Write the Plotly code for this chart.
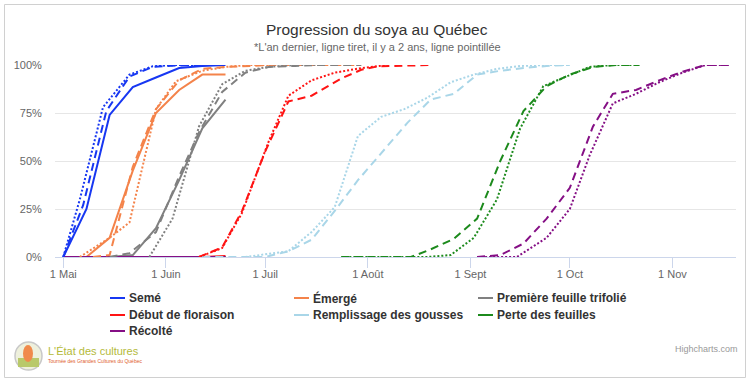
import plotly.graph_objects as go
import pandas as pd

# ---------------- data ----------------
# days counted from 1 May (same calendar for all three seasons)
debut_saison = "2021-05-01"
mois_dates = ["2021-05-01", "2021-06-01", "2021-07-01", "2021-08-01", "2021-09-01", "2021-10-01", "2021-11-01"]
mois_labels = ["1 Mai", "1 Juin", "1 Juil", "1 Août", "1 Sept", "1 Oct", "1 Nov"]
y_ticks = [0, 25, 50, 75, 100]
y_labels = ["0%", "25%", "50%", "75%", "100%"]

stades = ["Semé", "Émergé", "Première feuille trifolié", "Début de floraison",
          "Remplissage des gousses", "Perte des feuilles", "Récolté"]
couleurs = ["#1737f2", "#f4834a", "#808080", "#ff1414", "#a9d6e8", "#1c8a1c", "#850f85"]

# current year (solid)
jours_cette_annee = [0, 7, 14, 21, 28, 35, 42, 49]
seme = [0, 25, 74, 88.5, 93.5, 98.4, 99.5, 100]
emerge = [0, 0, 10, 45, 75, 87, 95, 95]
trifolie = [0, 0, 0, 1, 15, 40, 67, 82]
floraison = [0, 0, 0, 0, 0, 0, 0, 0.5]
gousses = [0, 0, 0, 0, 0, 0, 0, 0]
perte = [0, 0, 0, 0, 0, 0, 0, 0]
recolte = [0, 0, 0, 0, 0, 0, 0, 0]

# last year (dashed)
seme_j1 = [0, 6, 13, 20, 27, 34, 41, 48]
seme_v1 = [0, 27, 76, 94, 99, 99.7, 100, 100]
emerge_j1 = [9, 14, 21, 28, 35, 42, 49, 56, 63, 70, 77, 84, 90]
emerge_v1 = [0, 1, 47, 77, 92, 98, 99, 99.5, 100, 100, 100, 100, 100]
trifolie_j1 = [14, 20, 28, 35, 41, 48, 55, 62, 70, 77, 84, 90]
trifolie_v1 = [0, 2, 13, 42, 65, 86, 96, 99, 99.5, 100, 100, 100]
floraison_j1 = [41, 48, 54, 61, 68, 75, 84, 90, 95, 103, 111]
floraison_v1 = [0, 5, 24, 55, 81, 84, 93, 97.5, 99.3, 99.8, 100]
gousses_j1 = [42, 61, 68, 75, 82, 89, 97, 104, 111, 118, 125, 132, 139, 146, 153]
gousses_v1 = [0, 0, 3, 9, 24, 40, 56, 70, 82, 85, 95, 97, 98.4, 99.5, 100]
perte_j1 = [84, 105, 111, 118, 125, 132, 139, 146, 153, 160, 167, 174]
perte_v1 = [0, 0, 4, 9.5, 20, 50, 76, 89, 95, 99, 100, 100]
recolte_j1 = [125, 132, 139, 146, 153, 160, 166, 173, 180, 187, 194, 201]
recolte_v1 = [0, 1, 7, 20, 36, 68, 85, 87, 92, 96.5, 100, 100]

# two years ago (dotted)
seme_j2 = [0, 5, 12, 20, 27, 34, 41, 48]
seme_v2 = [0, 30, 78, 95, 99.3, 100, 100, 100]
emerge_j2 = [5, 14, 20, 28, 34, 42, 49, 56, 63]
emerge_v2 = [0, 10, 18, 77, 91.5, 97, 99, 100, 100]
trifolie_j2 = [26, 33, 41, 48, 55, 62, 70, 77]
trifolie_v2 = [0, 20, 68, 90, 97, 99, 100, 100]
floraison_j2 = [41, 48, 54, 62, 68, 75, 82, 90, 98]
floraison_v2 = [0, 4.7, 23, 60, 84, 92, 96, 98.4, 100]
gousses_j2 = [55, 68, 75, 82, 89, 96, 103, 110, 117, 124, 131, 138, 145, 153]
gousses_v2 = [0, 3, 13, 26, 63, 73, 77, 83, 91, 95, 98, 99.5, 100, 100]
perte_j2 = [84, 110, 117, 124, 131, 138, 145, 152, 159, 166, 174]
perte_v2 = [0, 0, 1, 10, 30, 67, 89, 94, 99, 100, 100]
recolte_j2 = [125, 137, 146, 153, 159, 166, 173, 180, 187, 194, 201]
recolte_v2 = [0, 0, 10, 25, 53, 80, 85, 91, 96, 100, 100]

titre = "Progression du soya au Québec"
sous_titre = "*L'an dernier, ligne tiret, il y a 2 ans, ligne pointillée"

# ---------------- figure ----------------
base = pd.Timestamp(debut_saison)


def dates(jours):
    return [base + pd.Timedelta(days=j) for j in jours]


courant = [seme, emerge, trifolie, floraison, gousses, perte, recolte]
an1 = [(seme_j1, seme_v1), (emerge_j1, emerge_v1), (trifolie_j1, trifolie_v1),
       (floraison_j1, floraison_v1), (gousses_j1, gousses_v1), (perte_j1, perte_v1),
       (recolte_j1, recolte_v1)]
an2 = [(seme_j2, seme_v2), (emerge_j2, emerge_v2), (trifolie_j2, trifolie_v2),
       (floraison_j2, floraison_v2), (gousses_j2, gousses_v2), (perte_j2, perte_v2),
       (recolte_j2, recolte_v2)]

fig = go.Figure()
for i, nom in enumerate(stades):
    fig.add_trace(go.Scatter(x=dates(jours_cette_annee), y=courant[i], mode="lines", name=nom,
                             line=dict(color=couleurs[i], width=2), showlegend=False))
for i, nom in enumerate(stades):
    j, v = an1[i]
    fig.add_trace(go.Scatter(x=dates(j), y=v, mode="lines", name=nom + " (an dernier)",
                             line=dict(color=couleurs[i], width=2, dash="8px,5px"), showlegend=False))
for i, nom in enumerate(stades):
    j, v = an2[i]
    fig.add_trace(go.Scatter(x=dates(j), y=v, mode="lines", name=nom + " (il y a 2 ans)",
                             line=dict(color=couleurs[i], width=2, dash="2px,2px"), showlegend=False))

W, H = 750, 382
L, R, T, B = 55, 14, 65, 125
PW, PH = W - L - R, H - T - B


def px(x):
    return (x - L) / PW


def py(y):
    return (H - B - y) / PH


FONT = "Liberation Sans, Arial, sans-serif"
shapes = []
annotations = []

# outer border
shapes.append(dict(type="rect", xref="paper", yref="paper", x0=px(4.5), x1=px(745.5),
                   y0=py(4.5), y1=py(377.5), line=dict(color="#d0d0d0", width=1), layer="below"))

# legend (drawn manually, Highcharts style)
col_x = [110, 294, 478]
row_y = [298, 315, 331]
for i, nom in enumerate(stades):
    cx = col_x[i % 3]
    cy = row_y[i // 3]
    shapes.append(dict(type="line", xref="paper", yref="paper", x0=px(cx), x1=px(cx + 15),
                       y0=py(cy), y1=py(cy), line=dict(color=couleurs[i], width=2)))
    annotations.append(dict(xref="paper", yref="paper", x=px(cx + 17), y=py(cy), text="<b>" + nom + "</b>",
                            showarrow=False, xanchor="left", yanchor="middle",
                            font=dict(family=FONT, size=12, color="#333333")))

# title / subtitle
annotations.append(dict(xref="paper", yref="paper", x=px(377), y=py(29), text=titre, showarrow=False,
                        xanchor="center", yanchor="middle", font=dict(family=FONT, size=15.5, color="#333333")))
annotations.append(dict(xref="paper", yref="paper", x=px(377), y=py(47), text=sous_titre, showarrow=False,
                        xanchor="center", yanchor="middle", font=dict(family=FONT, size=11, color="#666666")))

# credits
annotations.append(dict(xref="paper", yref="paper", x=px(740), y=py(349), text="Highcharts.com", showarrow=False,
                        xanchor="right", yanchor="middle", font=dict(family=FONT, size=9, color="#999999")))

# logo
shapes.append(dict(type="circle", xref="paper", yref="paper", x0=px(15), x1=px(42), y0=py(342), y1=py(370),
                   line=dict(color="#c8c8c8", width=1.5), fillcolor="#eef0dc"))
shapes.append(dict(type="rect", xref="paper", yref="paper", x0=px(18), x1=px(39), y0=py(358), y1=py(367),
                   line=dict(width=0), fillcolor="#b9c96a"))
shapes.append(dict(type="circle", xref="paper", yref="paper", x0=px(23), x1=px(33), y0=py(345), y1=py(362),
                   line=dict(width=0), fillcolor="#f08a4b"))
annotations.append(dict(xref="paper", yref="paper", x=px(46), y=py(351), text="L'État des cultures", showarrow=False,
                        xanchor="left", yanchor="middle", font=dict(family=FONT, size=11, color="#b4ba3a")))
annotations.append(dict(xref="paper", yref="paper", x=px(46), y=py(361),
                        text="Tournée des Grandes Cultures du Québec", showarrow=False,
                        xanchor="left", yanchor="middle", font=dict(family=FONT, size=5, color="#e0602c")))

fig.update_layout(
    width=W, height=H,
    margin=dict(l=L, r=R, t=T, b=B),
    paper_bgcolor="white", plot_bgcolor="white",
    showlegend=False,
    shapes=shapes, annotations=annotations,
    hovermode="x",
    xaxis=dict(type="date",
               range=[base - pd.Timedelta(days=2.5), base + pd.Timedelta(days=203.2)],
               tickvals=mois_dates, ticktext=mois_labels,
               ticks="outside", ticklen=10, tickcolor="#ccd6eb", tickwidth=1,
               ticklabelstandoff=-3,
               showgrid=False, showline=True, linecolor="#ccd6eb", linewidth=1,
               zeroline=False, fixedrange=True,
               tickfont=dict(family=FONT, size=11, color="#666666")),
    yaxis=dict(range=[0, 100], tickvals=y_ticks, ticktext=y_labels,
               ticks="outside", ticklen=10, tickcolor="rgba(0,0,0,0)",
               showgrid=True, gridcolor="#e6e6e6", gridwidth=1,
               showline=False, zeroline=False, fixedrange=True,
               tickfont=dict(family=FONT, size=11, color="#666666")),
)

fig.write_html("out.html", config={"displayModeBar": False},
               post_script="document.body.style.margin='0';document.body.style.overflow='hidden';")
